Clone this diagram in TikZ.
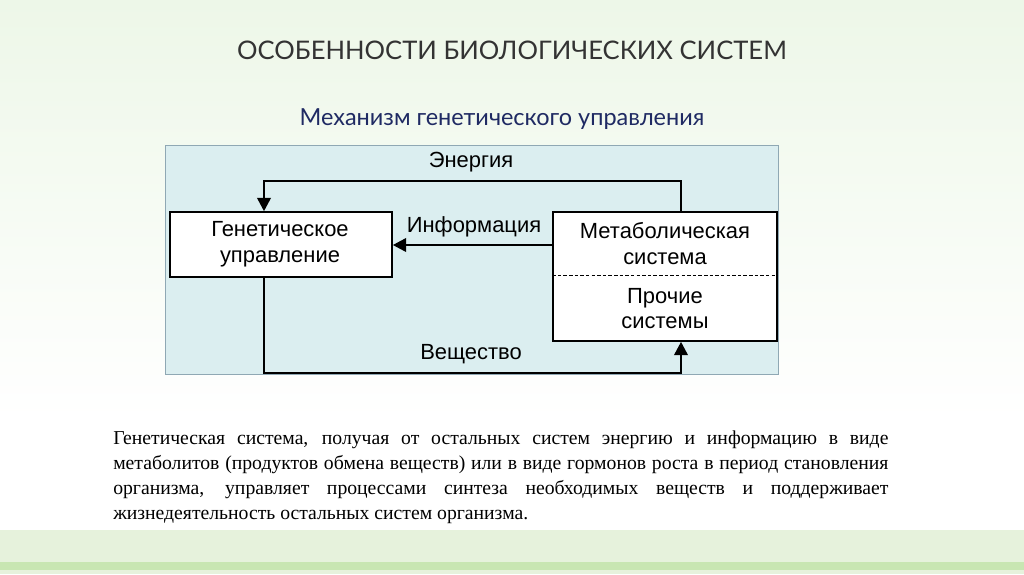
\documentclass[tikz,border=0pt]{standalone}
\usepackage{fontspec}
\setmainfont{Liberation Serif}
\newfontfamily\arialfont{Liberation Sans}
\newfontfamily\titlefont{Lato}
\usepackage{xcolor}
\usetikzlibrary{positioning, arrows.meta}

\definecolor{bggreen}{HTML}{EDF7E8}
\definecolor{bandlight}{HTML}{E6F2DC}
\definecolor{banddark}{HTML}{C8E6B2}
\definecolor{panelblue}{HTML}{DBEEF0}
\definecolor{panelline}{HTML}{8FA8B4}
\definecolor{subblue}{HTML}{1F2A63}

\tikzset{
    block/.style={draw, line width=1.2pt, fill=white, inner sep=0pt},
    flow/.style={line width=1.2pt, -{Triangle[length=0.33cm, width=0.34cm]}},
    lbl/.style={font=\arialfont\fontsize{15.6}{18.4}\selectfont, inner sep=0pt}
}

\begin{document}
\begin{tikzpicture}[x=0.025cm, y=-0.025cm]
        \useasboundingbox (0,0) rectangle (1024,574);
        % background
        \shade[top color=bggreen, bottom color=white] (0,0) rectangle (1024,420);
        \fill[white] (0,420) rectangle (1024,530);
        \fill[bandlight] (0,530) rectangle (1024,562);
        \fill[banddark] (0,562) rectangle (1024,570);
        \fill[bandlight] (0,570) rectangle (1024,574);

        \node[font=\titlefont\fontsize{18.2}{22}\selectfont, text=black!80] (title) at (512,50) {ОСОБЕННОСТИ БИОЛОГИЧЕСКИХ СИСТЕМ};
        \node[font=\titlefont\fontsize{16.7}{20}\selectfont, text=subblue] (subtitle) at (502,119) {Механизм генетического управления};

        \draw[panelline, fill=panelblue] (165,145) rectangle (778,374);

        \node[block, minimum width=5.55cm, minimum height=1.625cm] (gen) at (281,244.5) {};
        \node[block, minimum width=5.6cm, minimum height=3.225cm] (met) at (665,276.5) {};
        \draw[dash pattern=on 2.5pt off 1.5pt] (met.west |- 0,275) -- (met.east |- 0,275);

        \node[lbl, align=center] (gentext) at (280,244) {Генетическое\\управление};
        \node[lbl, align=center] (mettext) at (665,243.5) {Метаболическая\\система};
        \node[lbl, align=center] (othtext) at (665,308.5) {Прочие\\системы};

        \draw[flow] (met.north -| 681,0) |- (264,181) -- (gen.north -| 264,0);
        \draw[flow] (met.west |- 0,245) -- (gen.east |- 0,245);
        \draw[flow] (gen.south -| 264,0) |- (681,373) -- (met.south -| 681,0);

        \node[lbl] (energy) at (471,162) {Энергия};
        \node[lbl] (info) at (474,227) {Информация};
        \node[lbl] (matter) at (471,354) {Вещество};

        \node[text width=19.375cm, align=justify, inner sep=0pt, anchor=north west,
            font=\fontsize{14}{17.6}\selectfont] (para) at (113,431)
            {Генетическая система, получая от остальных систем энергию и информацию в виде метаболитов (продуктов обмена веществ) или в виде гормонов роста в период становления организма, управляет процессами синтеза необходимых веществ и поддерживает жизнедеятельность остальных систем организма.};
    \end{tikzpicture}
\end{document}
